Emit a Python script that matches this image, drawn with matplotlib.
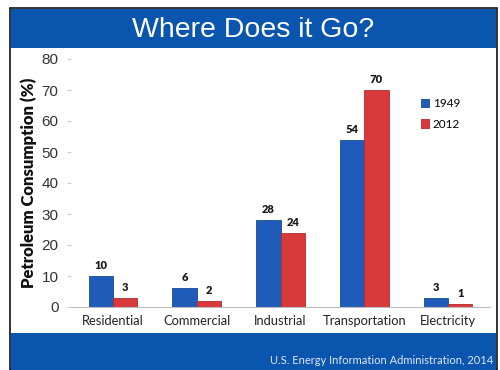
import matplotlib
matplotlib.use("Agg")
import matplotlib.pyplot as plt
import numpy as np
from matplotlib.patches import Rectangle

categories = ["Residential", "Commercial", "Industrial", "Transportation", "Electricity"]
share_1949 = [10, 6, 28, 54, 3]
share_2012 = [3, 2, 24, 70, 1]
series_labels = ["1949", "2012"]
yticks = [0, 10, 20, 30, 40, 50, 60, 70, 80]

W, H = 500, 370
fig = plt.figure(figsize=(W / 100, H / 100), dpi=100)
fig.patch.set_facecolor("white")

band_blue = "#0a55ad"
blue = "#1f5cba"
red = "#d83a3c"

def px(x0, y0, x1, y1):
    return (x0 / W, 1 - y1 / H, (x1 - x0) / W, (y1 - y0) / H)

# Slide frame and header / footer bands
x, y, w, h = px(10, 8, 497, 370)
fig.patches.append(Rectangle((x, y), w, h, transform=fig.transFigure,
                             facecolor="white", edgecolor="#111111", lw=1.2, zorder=0))
x, y, w, h = px(11, 9, 496, 48)
fig.patches.append(Rectangle((x, y), w, h, transform=fig.transFigure,
                             facecolor=band_blue, edgecolor="none", zorder=1))
x, y, w, h = px(11, 333, 496, 371)
fig.patches.append(Rectangle((x, y), w, h, transform=fig.transFigure,
                             facecolor=band_blue, edgecolor="none", zorder=1))

fig.text(253 / W, 1 - 30 / H, "Where Does it Go?", color="white",
         fontsize=20.5, family="Liberation Sans", ha="center", va="center")
fig.text(493 / W, 1 - 361 / H, "U.S. Energy Information Administration, 2014",
         color="#dfe8f5", fontsize=8, family="Lato", ha="right", va="center")

ax = fig.add_axes(px(71, 59, 490, 307))
ax.set_zorder(5)
ax.set_facecolor("none")
xpos = np.arange(len(categories))
bw = 0.29
b1 = ax.bar(xpos - bw / 2, share_1949, bw, color=blue, edgecolor="#174a96", lw=0.6,
            label=series_labels[0], zorder=2)
b2 = ax.bar(xpos + bw / 2, share_2012, bw, color=red, edgecolor="#b32a2e", lw=0.6,
            label=series_labels[1], zorder=2)

for bars, vals in ((b1, share_1949), (b2, share_2012)):
    for bar, v in zip(bars, vals):
        ax.text(bar.get_x() + bar.get_width() / 2, v + 1.6, str(v),
                ha="center", va="bottom", fontsize=8, fontweight="heavy",
                family="Lato", color="#1a1a1a")

ax.set_xlim(-0.5, len(categories) - 0.5)
ax.set_ylim(0, 80)
ax.set_yticks(yticks)
ax.set_yticklabels([str(t) for t in yticks], fontsize=11, family="Liberation Sans",
                   color="#333333")
ax.set_xticks(xpos)
ax.set_xticklabels(categories, fontsize=9.3, family="Lato", color="#222222")
ax.tick_params(axis="x", length=0, pad=6)
ax.tick_params(axis="y", length=3, color="#cccccc", direction="out", pad=6)
for s in ("top", "right", "left"):
    ax.spines[s].set_visible(False)
ax.spines["bottom"].set_color("#bbbbbb")
ax.spines["bottom"].set_linewidth(0.8)

ax.set_ylabel("Petroleum Consumption (%)", fontsize=12, fontweight="heavy",
              family="Lato", color="#111111", labelpad=3)

leg = ax.legend(loc="upper left", bbox_to_anchor=(0.81, 0.885), frameon=False,
                handlelength=0.7, handleheight=0.7, handletextpad=0.3,
                labelspacing=0.8, prop={"family": "Lato", "size": 8.5})

fig.savefig("out.png", dpi=100)
